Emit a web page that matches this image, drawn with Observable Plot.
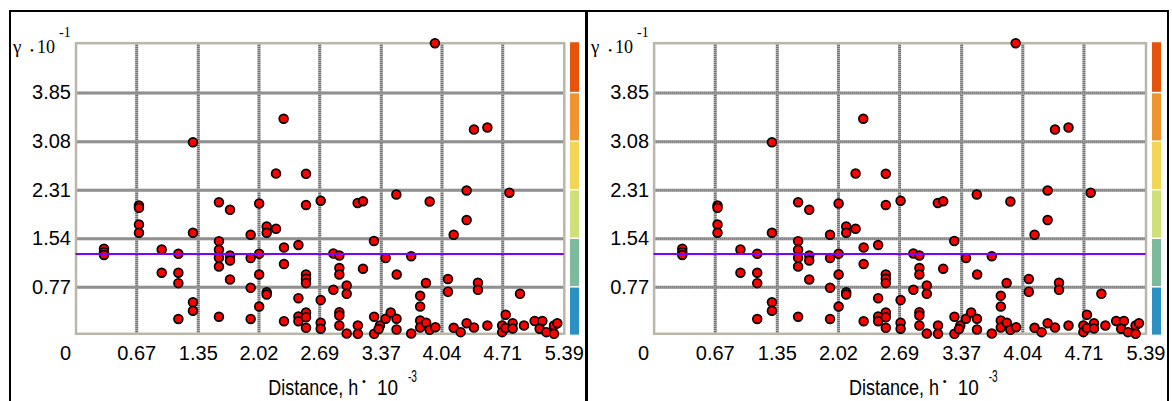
<!DOCTYPE html>
<html><head><meta charset="utf-8">
<script src="https://cdn.jsdelivr.net/npm/d3@7"></script>
<script src="https://cdn.jsdelivr.net/npm/@observablehq/plot@0.6"></script>
<style>
html,body{margin:0;padding:0;background:#fff;}
#stage{position:relative;width:1172px;height:401px;overflow:hidden;background:#fff;}
.abs{position:absolute;top:0;}
</style></head><body><div id="stage"></div>
<script>
// ---- data ----
const xTickValues = [0.67, 1.35, 2.02, 2.69, 3.37, 4.04, 4.71, 5.39];
const xZeroLabel = [0];
const yTickValues = [0.77, 1.54, 2.31, 3.08, 3.85];
const meanGamma = [1.30];
const bandLow  = [0, 0.77, 1.54, 2.31, 3.08, 3.85];
const bandHigh = [0.77, 1.54, 2.31, 3.08, 3.85, 4.66];
const bandColors = ["#2b90c4", "#7dba9c", "#cfe07a", "#f3d655", "#ee9530", "#e5540a"];

const distance = [
 1.291, 2.292, 3.962, 4.393, 4.541, 2.208, 2.539, 3.536, 4.312, 4.784,
 0.695, 0.695, 0.695, 0.695, 1.291, 1.578, 1.700, 2.022, 2.105, 2.105,
 2.208, 1.928, 2.539, 2.701, 3.109, 3.168, 3.904, 4.312, 4.169, 3.289,
 1.578, 1.578, 1.578, 1.578, 1.700, 1.700, 1.700, 1.928, 2.022, 2.022,
 2.296, 2.296, 2.455, 0.309, 0.309, 0.309, 0.946, 0.946, 1.130, 1.130,
 1.130, 2.841, 2.907, 3.418, 3.700, 2.907, 2.907, 3.168, 3.540, 2.539,
 2.539, 2.539, 2.988, 2.988, 2.841, 3.863, 4.106, 4.106, 4.437, 4.437,
 4.901, 3.799, 3.799, 1.928, 2.105, 2.105, 2.022, 1.291, 1.291, 1.130,
 1.578, 1.928, 2.296, 2.455, 2.455, 2.455, 2.539, 2.539, 2.539, 2.701,
 2.701, 2.701, 2.907, 2.907, 2.907, 2.988, 3.111, 3.111, 3.291, 3.291,
 3.355, 3.418, 3.474, 3.538, 3.538, 3.700, 3.799, 3.799, 3.865, 3.904,
 3.967, 4.169, 4.246, 4.312, 4.393, 4.541, 4.704, 4.704, 4.743, 4.743,
 4.820, 4.820, 4.945, 5.063, 5.148, 5.118, 5.192, 5.276, 5.276, 5.313,
 3.341
];
const gamma = [
 3.071, 3.442, 4.641, 3.273, 3.304, 2.575, 2.570, 2.242, 2.305, 2.269,
 2.068, 2.031, 1.766, 1.635, 1.635, 2.120, 1.999, 2.099, 1.735, 1.635,
 1.698, 1.603, 2.075, 2.142, 2.107, 2.136, 2.131, 1.838, 1.603, 1.505,
 1.502, 1.365, 1.238, 1.100, 1.275, 1.196, 0.894, 1.235, 1.302, 0.974,
 1.402, 1.140, 1.441, 1.381, 1.327, 1.283, 1.370, 1.000, 1.302, 1.000,
 0.836, 1.306, 1.275, 1.235, 1.264, 1.077, 0.974, 1.064, 0.974, 0.974,
 0.905, 0.836, 0.799, 0.668, 0.731, 0.839, 0.902, 0.701, 0.842, 0.731,
 0.668, 0.636, 0.466, 0.763, 0.693, 0.656, 0.466, 0.534, 0.398, 0.268,
 0.303, 0.268, 0.233, 0.598, 0.308, 0.233, 0.371, 0.296, 0.128, 0.569,
 0.208, 0.113, 0.376, 0.323, 0.165, 0.038, 0.165, 0.033, 0.303, 0.033,
 0.165, 0.271, 0.371, 0.271, 0.101, 0.038, 0.244, 0.133, 0.208, 0.098,
 0.138, 0.128, 0.059, 0.201, 0.133, 0.165, 0.165, 0.059, 0.336, 0.125,
 0.201, 0.117, 0.165, 0.236, 0.236, 0.113, 0.059, 0.165, 0.033, 0.201,
 0.109
];

const points = distance.map((d, i) => ({distance: d, gamma: gamma[i]}));
const bands = bandLow.map((lo, i) => ({lo, hi: bandHigh[i], color: bandColors[i]}));
const gridX = xTickValues.slice(0, -1);

// ---- layout ----
const H = 401, MT = 42.7, MB = 67.7;
const yDomain = [0.033, 4.641];
const panels = [
  {left: 0,   width: 586, ml: 75.5, mr: 22.2, bar: 570,  pl: 75.5,  tx: 268.3},
  {left: 586, width: 586, ml: 67.6, mr: 26.5, bar: 1152, pl: 653.6, tx: 849.0}
];
const stage = document.getElementById("stage");
const sans = "'Liberation Sans', Arial, sans-serif";
const serif = "'Liberation Serif', 'Times New Roman', serif";

function place(node, left, z) {
  const wrap = document.createElement("div");
  wrap.className = "abs";
  wrap.style.left = left + "px";
  wrap.style.zIndex = z;
  wrap.appendChild(node);
  stage.appendChild(wrap);
}

for (const p of panels) {
  const chart = Plot.plot({
    width: p.width, height: H,
    marginLeft: p.ml, marginRight: p.mr, marginTop: MT, marginBottom: MB,
    x: {domain: [0, 5.39]},
    y: {domain: yDomain},
    style: {fontFamily: sans, fontSize: "20px", color: "#000", background: "transparent", overflow: "visible"},
    marks: [
      Plot.ruleX(gridX, {stroke: "#cccccc", strokeWidth: 3}),
      Plot.ruleX(gridX, {stroke: "#555555", strokeWidth: 3, strokeDasharray: "1,1"}),
      Plot.ruleY(yTickValues, {stroke: "#cccccc", strokeWidth: 3}),
      Plot.ruleY(yTickValues, {stroke: "#555555", strokeWidth: 3, strokeDasharray: "1,1"}),
      Plot.frame({stroke: "#bab6a9", strokeWidth: 2.5}),
      Plot.dot(points, {x: "distance", y: "gamma", r: 4.4, fill: "#ff0000", stroke: "#000", strokeWidth: 1.7}),
      Plot.ruleY(meanGamma, {stroke: "#7f00ff", strokeWidth: 2}),
      Plot.axisX(xTickValues, {tickSize: 0, tickPadding: 12, tickFormat: d => d.toFixed(2), label: null, fontSize: 20, fontFamily: sans}),
      Plot.text(xZeroLabel, {x: d => d, text: d => String(d), frameAnchor: "bottom", lineAnchor: "top", dy: 12, dx: -10.5, fontSize: 20, fontFamily: sans}),
      Plot.axisY(yTickValues, {tickSize: 0, tickPadding: 5, tickFormat: d => d.toFixed(2), label: null, fontSize: 20, fontFamily: sans})
    ]
  });
  place(chart, p.left, 1);

  const bar = Plot.plot({
    width: 9, height: H,
    marginLeft: 0, marginRight: 0, marginTop: MT, marginBottom: MB,
    y: {domain: yDomain, axis: null},
    style: {background: "transparent", overflow: "visible"},
    marks: [
      Plot.rect(bands, {y1: "lo", y2: "hi", fill: "color", insetTop: 0.75, insetBottom: 0.75})
    ]
  });
  place(bar, p.bar, 1);
}

// frames
const frame = document.createElement("div");
frame.style.cssText = "position:absolute;left:9px;top:10px;width:1156px;height:400px;border-top:2px solid #000;border-left:2px solid #000;border-right:2px solid #000;z-index:3;";
stage.appendChild(frame);
const sep = document.createElement("div");
sep.style.cssText = "position:absolute;left:585px;top:10px;width:2.5px;height:400px;background:#000;z-index:3;";
stage.appendChild(sep);

// labels overlay
const ov = d3.select(stage).append("svg")
  .attr("width", 1172).attr("height", H)
  .style("position", "absolute").style("left", 0).style("top", 0).style("z-index", 4)
  .style("pointer-events", "none");

// text whose baseline starts at (x, y), optionally squeezed horizontally
function label(x, y, txt, family, size, sx = 1) {
  return ov.append("text")
    .attr("transform", `translate(${x},${y}) scale(${sx},1)`)
    .attr("fill", "#000").attr("font-family", family).attr("font-size", size)
    .text(txt);
}

for (const p of panels) {
  label(p.pl - 62.5, 53, "γ", serif, 19);
  label(p.pl - 45.4, 54, "•", serif, 11);
  label(p.pl - 38.5, 53, "10", serif, 19, 0.95);
  label(p.pl - 16.5, 37, "-1", serif, 14, 1.0);

  label(p.tx, 395, "Distance, h", sans, 22, 0.818);
  label(p.tx + 93.8, 385, "•", sans, 11);
  label(p.tx + 108.7, 395, "10", sans, 22, 0.86);
  label(p.tx + 139.7, 382, "-3", sans, 16, 0.63);
}
</script></body></html>
